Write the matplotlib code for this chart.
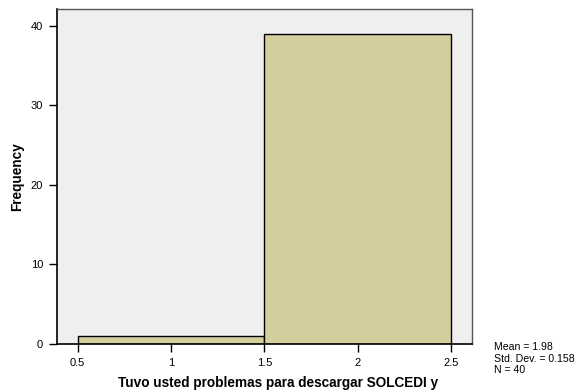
import matplotlib.pyplot as plt
import numpy as np

bin_edges = [0.5, 1.5, 2.5]
counts = [1, 39]
x_ticks = [0.5, 1, 1.5, 2, 2.5]
y_ticks = [0, 10, 20, 30, 40]
stats = "Mean = 1.98\nStd. Dev. = 0.158\nN = 40"

plt.rcParams['font.family'] = ['Liberation Sans', 'DejaVu Sans']

fig = plt.figure(figsize=(5.77, 3.92), dpi=100)
ax = fig.add_axes([0.0988, 0.1224, 0.7192, 0.8546])
ax.set_facecolor('#efefef')

widths = np.diff(bin_edges)
ax.bar(bin_edges[:-1], counts, width=widths, align='edge',
       color='#d3ce9b', edgecolor='black', linewidth=1.0, zorder=2)

ax.set_xlim(0.389, 2.612)
ax.set_ylim(0, 42.1)
ax.set_xticks(x_ticks)
ax.set_xticklabels([str(t) for t in x_ticks])
ax.set_yticks(y_ticks)
ax.tick_params(direction='out', length=6, width=1, colors='black', labelsize=8, pad=4)

for s in ['left', 'bottom']:
    ax.spines[s].set_color('black')
    ax.spines[s].set_linewidth(1.2)
for s in ['top', 'right']:
    ax.spines[s].set_color('#555555')
    ax.spines[s].set_linewidth(1.0)

ax.set_ylabel('Frequency', fontsize=9.8, fontweight='bold')
ax.yaxis.set_label_coords(-0.08, 0.5)
ax.set_xlabel('Tuvo usted problemas para descargar SOLCEDI y', fontsize=9.8, fontweight='bold')
ax.xaxis.set_label_coords(0.533, -0.095)

fig.text(0.856, 0.043, stats, fontsize=7.6, va='bottom', ha='left', linespacing=1.2)

fig.savefig('out.png', dpi=100)
